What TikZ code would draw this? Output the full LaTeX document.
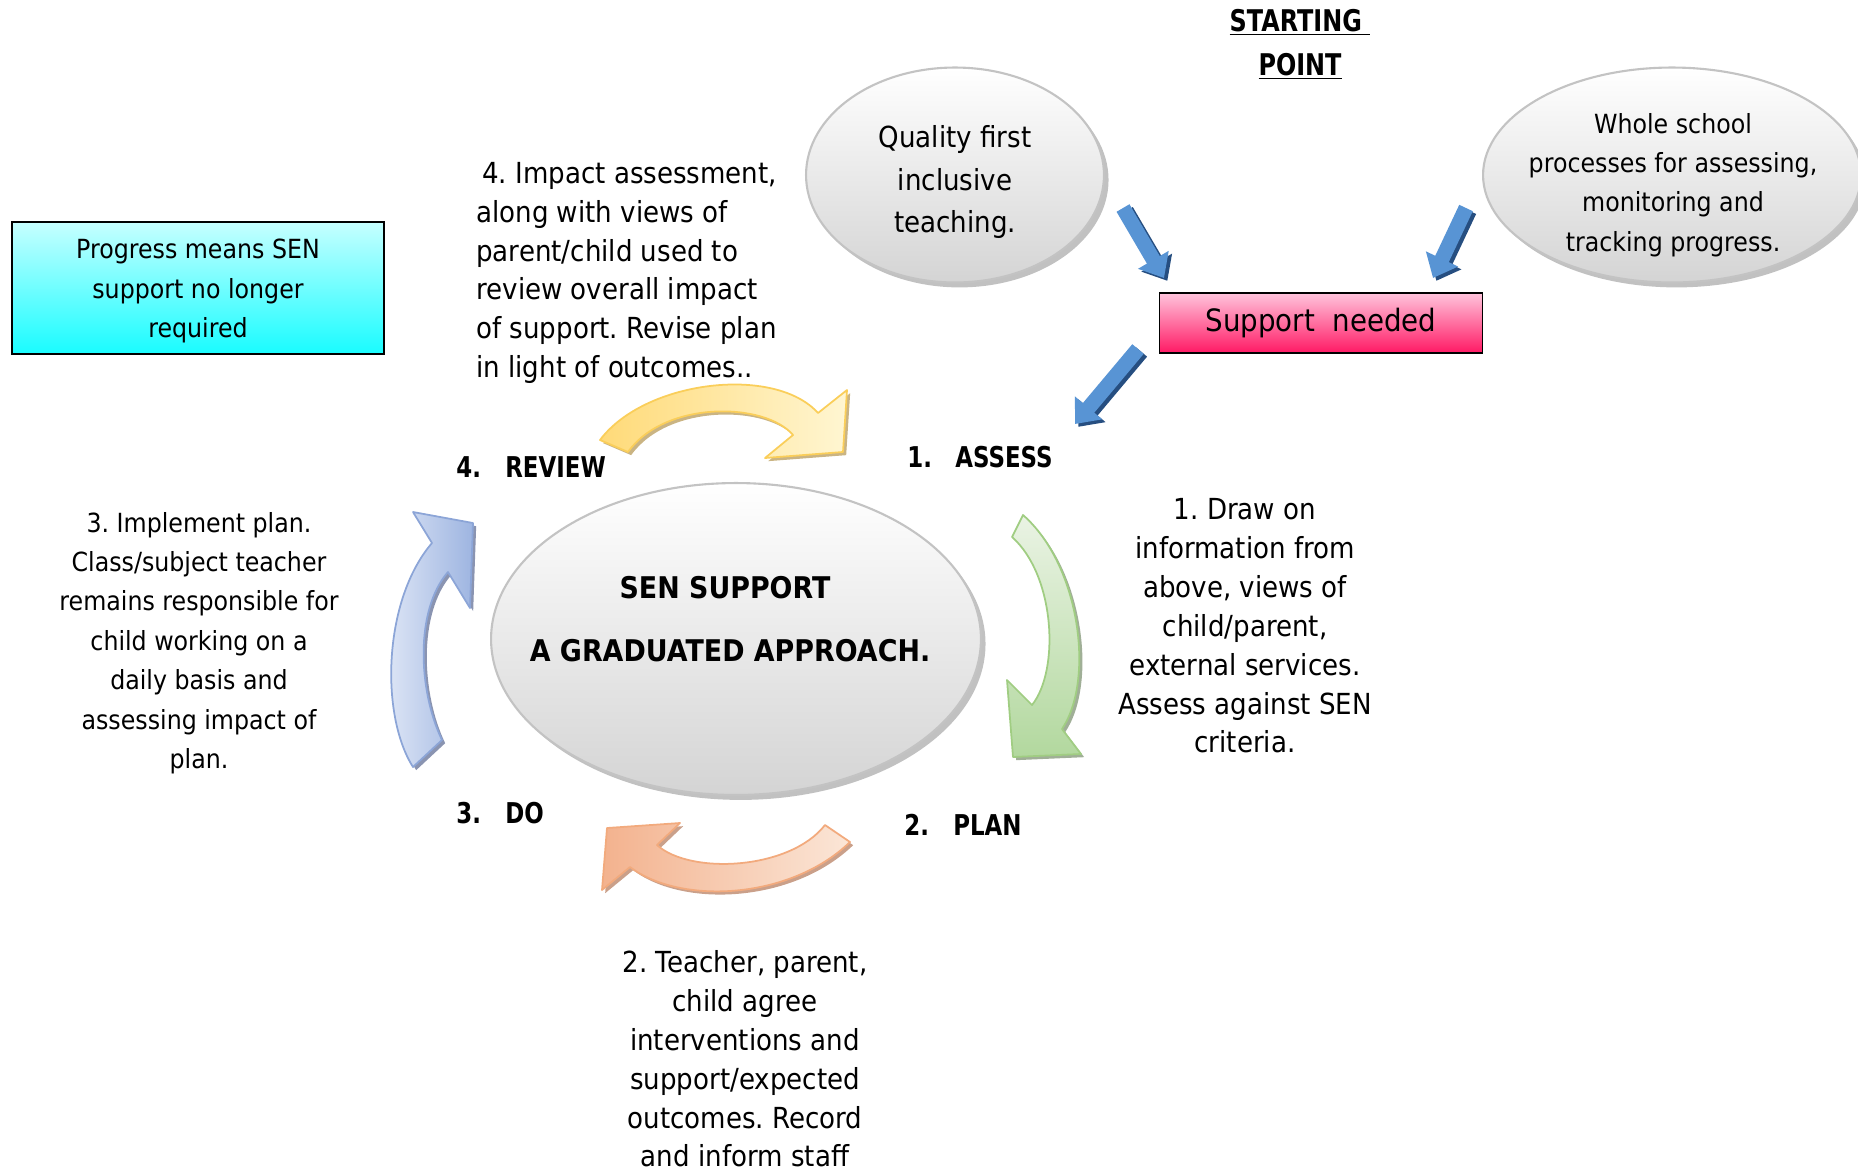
\documentclass[tikz,border=0pt]{standalone}
\usepackage{fontspec}
\setmainfont{DejaVu Sans}[FakeStretch=0.9]
\newfontfamily\boldnarrow{DejaVu Sans}[FakeStretch=0.8]
\usetikzlibrary{shapes.geometric,shadows,arrows.meta}
\frenchspacing
\definecolor{bubbleedge}{RGB}{195,195,195}
\definecolor{bubblelow}{RGB}{212,212,212}
\definecolor{bubbleshade}{RGB}{178,178,178}
\definecolor{pinktop}{RGB}{255,196,220}
\definecolor{pinklow}{RGB}{255,25,100}
\definecolor{cyantop}{RGB}{198,255,255}
\definecolor{cyanlow}{RGB}{25,252,255}
\definecolor{pointerblue}{RGB}{88,148,212}
\definecolor{pointershade}{RGB}{38,78,128}
\definecolor{reviewedge}{RGB}{250,206,90}
\definecolor{reviewlight}{RGB}{255,246,210}
\definecolor{reviewdark}{RGB}{255,218,120}
\definecolor{reviewshade}{RGB}{196,172,118}
\definecolor{assessedge}{RGB}{160,205,130}
\definecolor{assesslight}{RGB}{234,243,228}
\definecolor{assessdark}{RGB}{178,216,158}
\definecolor{assessshade}{RGB}{150,166,140}
\definecolor{planedge}{RGB}{242,170,125}
\definecolor{planlight}{RGB}{251,230,215}
\definecolor{plandark}{RGB}{243,178,142}
\definecolor{planshade}{RGB}{196,150,125}
\definecolor{doedge}{RGB}{140,165,215}
\definecolor{dolight}{RGB}{226,233,247}
\definecolor{dodark}{RGB}{158,181,225}
\definecolor{doshade}{RGB}{125,136,168}
\tikzset{
  bubble/.style={ellipse,draw=bubbleedge,line width=1.2pt,top color=white,bottom color=bubblelow,
    inner sep=0pt,
    drop shadow={shadow xshift=2.6pt,shadow yshift=-2.8pt,fill=bubbleshade,opacity=.8}},
  notebox/.style={draw=black,line width=1pt,inner sep=0pt},
  bodytext/.style={inner sep=0pt,align=center,font=\fontsize{16.5}{22.1}\selectfont},
  smalltext/.style={inner sep=0pt,align=center,font=\fontsize{15}{22.4}\selectfont},
  steplabel/.style={inner sep=0pt,anchor=west,font=\boldnarrow\bfseries\fontsize{16.3}{19}\selectfont},
  pointer/.style={line width=8.5pt,pointerblue,-{Triangle[width=19.5pt,length=12pt]}},
  pointershadow/.style={pointer,pointershade,transform canvas={shift={(1.9pt,-1.6pt)}}},
  cycarrow/.style={line width=1pt,line join=round,
    drop shadow={shadow xshift=1.8pt,shadow yshift=-1.8pt,fill=#1shade,opacity=.9}}
}
\begin{document}
\begin{tikzpicture}[x=0.02cm,y=-0.02cm]
\useasboundingbox (0,0) rectangle (1858,1171);

% starting point
\node[inner sep=0pt,align=center,font=\boldnarrow\bfseries\fontsize{17}{25}\selectfont] (start) at (1300,44)
  {\underline{STARTING\ }\\\underline{POINT}};
\node[bubble,minimum width=5.96cm,minimum height=4.3cm] (quality) at (955,175) {};
\node[inner sep=0pt,align=center,font=\fontsize{16.5}{24.2}\selectfont] (qualitytxt) at (955,182)
  {Quality first\\inclusive\\teaching.};
\node[bubble,minimum width=7.56cm,minimum height=4.3cm] (whole) at (1672,175) {};
\node[smalltext] (wholetxt) at (1673,185)
  {Whole school\\processes for assessing,\\monitoring and\\tracking progress.};
\node[notebox,top color=pinktop,bottom color=pinklow,minimum width=6.46cm,minimum height=1.2cm,
  font=\fontsize{17.5}{21}\selectfont] (support) at (1321,323) {Support\ \ needed};
\node[notebox,top color=cyantop,bottom color=cyanlow,minimum width=7.44cm,minimum height=2.64cm] (progress) at (198,288) {};
\node[smalltext,font=\fontsize{15}{22.6}\selectfont] (progresstxt) at (198,291)
  {Progress means SEN\\support no longer\\required};

% pointers into support / assess
\coordinate (qtail) at (1123,208);
\coordinate (qtip) at (1164,278);
\coordinate (wtail) at (1466,208);
\coordinate (wtip) at (1433,278);
\coordinate (stail) at (1138,349);
\coordinate (stip) at (1075,424);
\draw[pointershadow] (qtail) -- (qtip);
\draw[pointershadow] (wtail) -- (wtip);
\draw[pointershadow] (stail) -- (stip);
\draw[pointer] (qtail) -- (qtip);
\draw[pointer] (wtail) -- (wtip);
\draw[pointer] (stail) -- (stip);

% central bubble
\node[bubble,minimum width=9.8cm,minimum height=6.24cm] (sen) at (736,639) {};
\node[inner sep=0pt,font=\fontsize{17}{20}\selectfont\bfseries] (senA) at (725,588) {SEN SUPPORT};
\node[inner sep=0pt,font=\fontsize{17}{20}\selectfont\bfseries] (senB) at (730,651) {A GRADUATED APPROACH.};

% step labels
\node[steplabel] (assess) at (907,457) {\makebox[0.96cm][l]{1.}ASSESS};
\node[steplabel] (plan) at (904,825) {\makebox[0.98cm][l]{2.}PLAN};
\node[steplabel] (do) at (456,813) {\makebox[0.98cm][l]{3.}DO};
\node[steplabel] (review) at (456,467) {\makebox[0.98cm][l]{4.}REVIEW};

% cycle arrows
\draw[cycarrow=review,draw=reviewedge,left color=reviewdark,right color=reviewlight]
  (600,440) .. controls (645,380) and (775,365) .. (818,413) -- (847,390) -- (843,452)
  -- (765,458) -- (793,435) .. controls (765,402) and (665,400) .. (628,452) -- cycle;
\draw[cycarrow=assess,draw=assessedge,top color=assesslight,bottom color=assessdark]
  (1023,515) .. controls (1080,565) and (1095,680) .. (1062,729) -- (1081,754) -- (1013,757)
  -- (1007,680) -- (1032,705) .. controls (1060,670) and (1055,575) .. (1012,537) -- cycle;
\draw[cycarrow=plan,draw=planedge,left color=plandark,right color=planlight]
  (850,842) .. controls (790,900) and (680,905) .. (630,867) -- (602,890) -- (607,828)
  -- (680,823) -- (657,845) .. controls (690,875) and (790,870) .. (825,825) -- cycle;
\draw[cycarrow=do,draw=doedge,left color=dolight,right color=dodark]
  (413,767) .. controls (380,715) and (383,600) .. (432,543) -- (413,512) -- (473,523)
  -- (470,608) -- (448,572) .. controls (415,610) and (418,690) .. (442,740) -- cycle;

% step texts
\node[bodytext,align=left,anchor=west] (reviewtxt) at (476,273)
  {\hspace*{0.12cm}4. Impact assessment,\\along with views of\\parent/child used to\\review overall impact\\of support. Revise plan\\in light of outcomes..};
\node[bodytext] (assesstxt) at (1245,626)
  {1. Draw on\\information from\\above, views of\\child/parent,\\external services.\\Assess against SEN\\criteria.};
\node[smalltext] (dotxt) at (199,643)
  {3. Implement plan.\\Class/subject teacher\\remains responsible for\\child working on a\\daily basis and\\assessing impact of\\plan.};
\node[bodytext] (plantxt) at (745,1059)
  {2. Teacher, parent,\\child agree\\interventions and\\support/expected\\outcomes. Record\\and inform staff};
\end{tikzpicture}
\end{document}
